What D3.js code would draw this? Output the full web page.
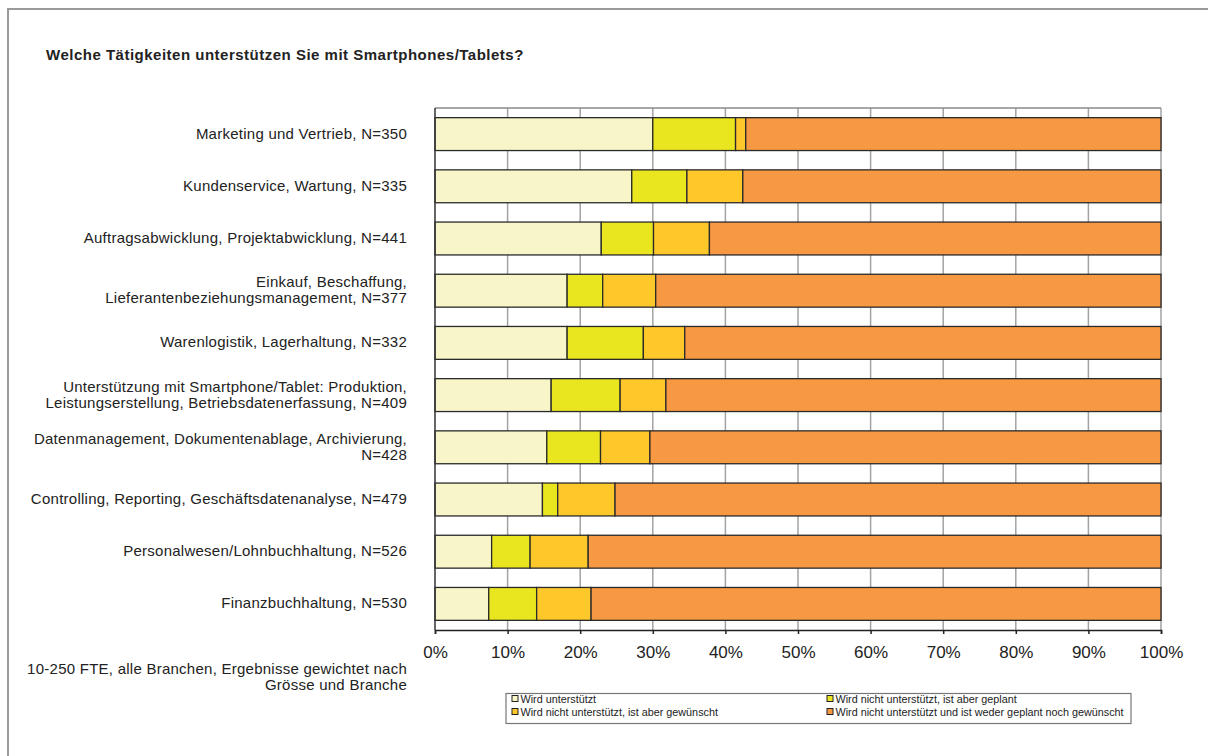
<!DOCTYPE html>
<html><head><meta charset="utf-8">
<script src="https://cdn.jsdelivr.net/npm/d3@7"></script>
<style>body{margin:0;background:#fff}svg{display:block}text{font-family:"Liberation Sans",Arial,Helvetica,sans-serif;fill:#222}</style>
</head><body><svg id="c" width="1208" height="756"></svg>
<script>
const categories = [
  ["Marketing und Vertrieb, N=350"],
  ["Kundenservice, Wartung, N=335"],
  ["Auftragsabwicklung, Projektabwicklung, N=441"],
  ["Einkauf, Beschaffung,", "Lieferantenbeziehungsmanagement, N=377"],
  ["Warenlogistik, Lagerhaltung, N=332"],
  ["Unterstützung mit Smartphone/Tablet: Produktion,", "Leistungserstellung, Betriebsdatenerfassung, N=409"],
  ["Datenmanagement, Dokumentenablage, Archivierung,", "N=428"],
  ["Controlling, Reporting, Geschäftsdatenanalyse, N=479"],
  ["Personalwesen/Lohnbuchhaltung, N=526"],
  ["Finanzbuchhaltung, N=530"]
];
const seriesNames = [
  "Wird unterstützt",
  "Wird nicht unterstützt, ist aber geplant",
  "Wird nicht unterstützt, ist aber gewünscht",
  "Wird nicht unterstützt und ist weder geplant noch gewünscht"
];
const unterstuetzt = [30.0, 27.1, 22.9, 18.2, 18.2, 16.0, 15.4, 14.8, 7.8, 7.4];
const geplant      = [11.4, 7.6, 7.2, 4.9, 10.5, 9.5, 7.4, 2.1, 5.3, 6.6];
const gewuenscht   = [1.4, 7.7, 7.7, 7.3, 5.7, 6.3, 6.8, 7.9, 8.0, 7.5];
const weder        = [57.2, 57.6, 62.2, 69.6, 65.6, 68.2, 70.4, 75.2, 78.9, 78.5];
const tickValues = [0, 10, 20, 30, 40, 50, 60, 70, 80, 90, 100];
const colors = ["#f8f6c9", "#e9e51f", "#fec82b", "#f79843"];
const title = "Welche Tätigkeiten unterstützen Sie mit Smartphones/Tablets?";
const footnote = ["10-250 FTE, alle Branchen, Ergebnisse gewichtet nach", "Grösse und Branche"];

const svg = d3.select("#c");
// outer frame
svg.append("rect").attr("x", 8).attr("y", 9).attr("width", 1400).attr("height", 900)
  .attr("fill", "none").attr("stroke", "#9a9a9a").attr("stroke-width", 2);

svg.append("text").attr("x", 46).attr("y", 60).attr("font-size", 15).attr("letter-spacing", 0.5)
  .attr("font-weight", "bold").text(title);

const keys = ["a", "b", "c", "d"];
const rows = categories.map((c, i) => ({idx: i, a: unterstuetzt[i], b: geplant[i], c: gewuenscht[i], d: weder[i]}));
const stacked = d3.stack().keys(keys)(rows);

const x = d3.scaleLinear().domain([0, 100]).range([435, 1161]);
const y = d3.scaleBand().domain(d3.range(categories.length)).range([108, 630]).paddingInner(0.37).paddingOuter(0.185);

// gridlines
svg.append("g").selectAll("line").data(tickValues.slice(1)).join("line")
  .attr("x1", d => x(d)).attr("x2", d => x(d)).attr("y1", 108).attr("y2", 630)
  .attr("stroke", "#a3a3a3").attr("stroke-width", 1.5);
// top border
svg.append("line").attr("x1", x(0)).attr("x2", x(100)).attr("y1", 108).attr("y2", 108)
  .attr("stroke", "#8a8a8a").attr("stroke-width", 1.5);

// bars
svg.append("g").selectAll("g").data(stacked).join("g")
  .attr("fill", (d, i) => colors[i])
  .selectAll("rect").data(d => d).join("rect")
  .attr("x", d => x(d[0])).attr("width", d => x(d[1]) - x(d[0]))
  .attr("y", d => y(d.data.idx)).attr("height", y.bandwidth())
  .attr("stroke", "#2a2a2a").attr("stroke-width", 1.3);

// x axis
const xAxis = d3.axisBottom(x).tickValues(tickValues).tickFormat(d => d + "%").tickSize(4).tickPadding(12);
const gx = svg.append("g").attr("transform", "translate(0,630)").call(xAxis);
gx.select(".domain").attr("stroke", "#222").attr("stroke-width", 1.5);
gx.selectAll(".tick line").attr("stroke", "#222").attr("stroke-width", 1.5);
gx.selectAll(".tick text").attr("font-size", 17).attr("fill", "#222")
  .attr("font-family", "'Liberation Sans',Arial,sans-serif");
// y axis line
svg.append("line").attr("x1", x(0)).attr("x2", x(0)).attr("y1", 108).attr("y2", 630)
  .attr("stroke", "#333").attr("stroke-width", 1.5);

// category labels
const lab = svg.append("g").selectAll("text").data(categories).join("text")
  .attr("text-anchor", "end").attr("font-size", 15).attr("letter-spacing", 0.25)
  .attr("transform", (d, i) => `translate(407,${y(i) + y.bandwidth() / 2})`);
lab.selectAll("tspan").data(d => d.map((t, j) => ({t, j, n: d.length}))).join("tspan")
  .attr("x", 0)
  .attr("y", d => d.n === 1 ? 4.5 : (d.j === 0 ? -3.5 : 12.5))
  .text(d => d.t);

// footnote
svg.append("text").attr("text-anchor", "end").attr("font-size", 15).attr("letter-spacing", 0.25)
  .selectAll("tspan").data(footnote).join("tspan")
  .attr("x", 407).attr("y", (d, i) => 674 + i * 16).text(d => d);

// legend
const lg = svg.append("g");
lg.append("rect").attr("x", 506).attr("y", 693.5).attr("width", 625).attr("height", 30)
  .attr("fill", "#fff").attr("stroke", "#777").attr("stroke-width", 1.2);
const legPos = [[512, 702], [827, 702], [512, 715], [827, 715]];
seriesNames.forEach((n, i) => {
  const [lx, ly] = legPos[i];
  lg.append("rect").attr("x", lx).attr("y", ly - 6.5).attr("width", 6).attr("height", 6)
    .attr("fill", colors[i]).attr("stroke", "#222").attr("stroke-width", 1);
  lg.append("text").attr("x", lx + 8.5).attr("y", ly + 0.5).attr("font-size", 10.8).attr("fill", "#333").text(n);
});
</script></body></html>
